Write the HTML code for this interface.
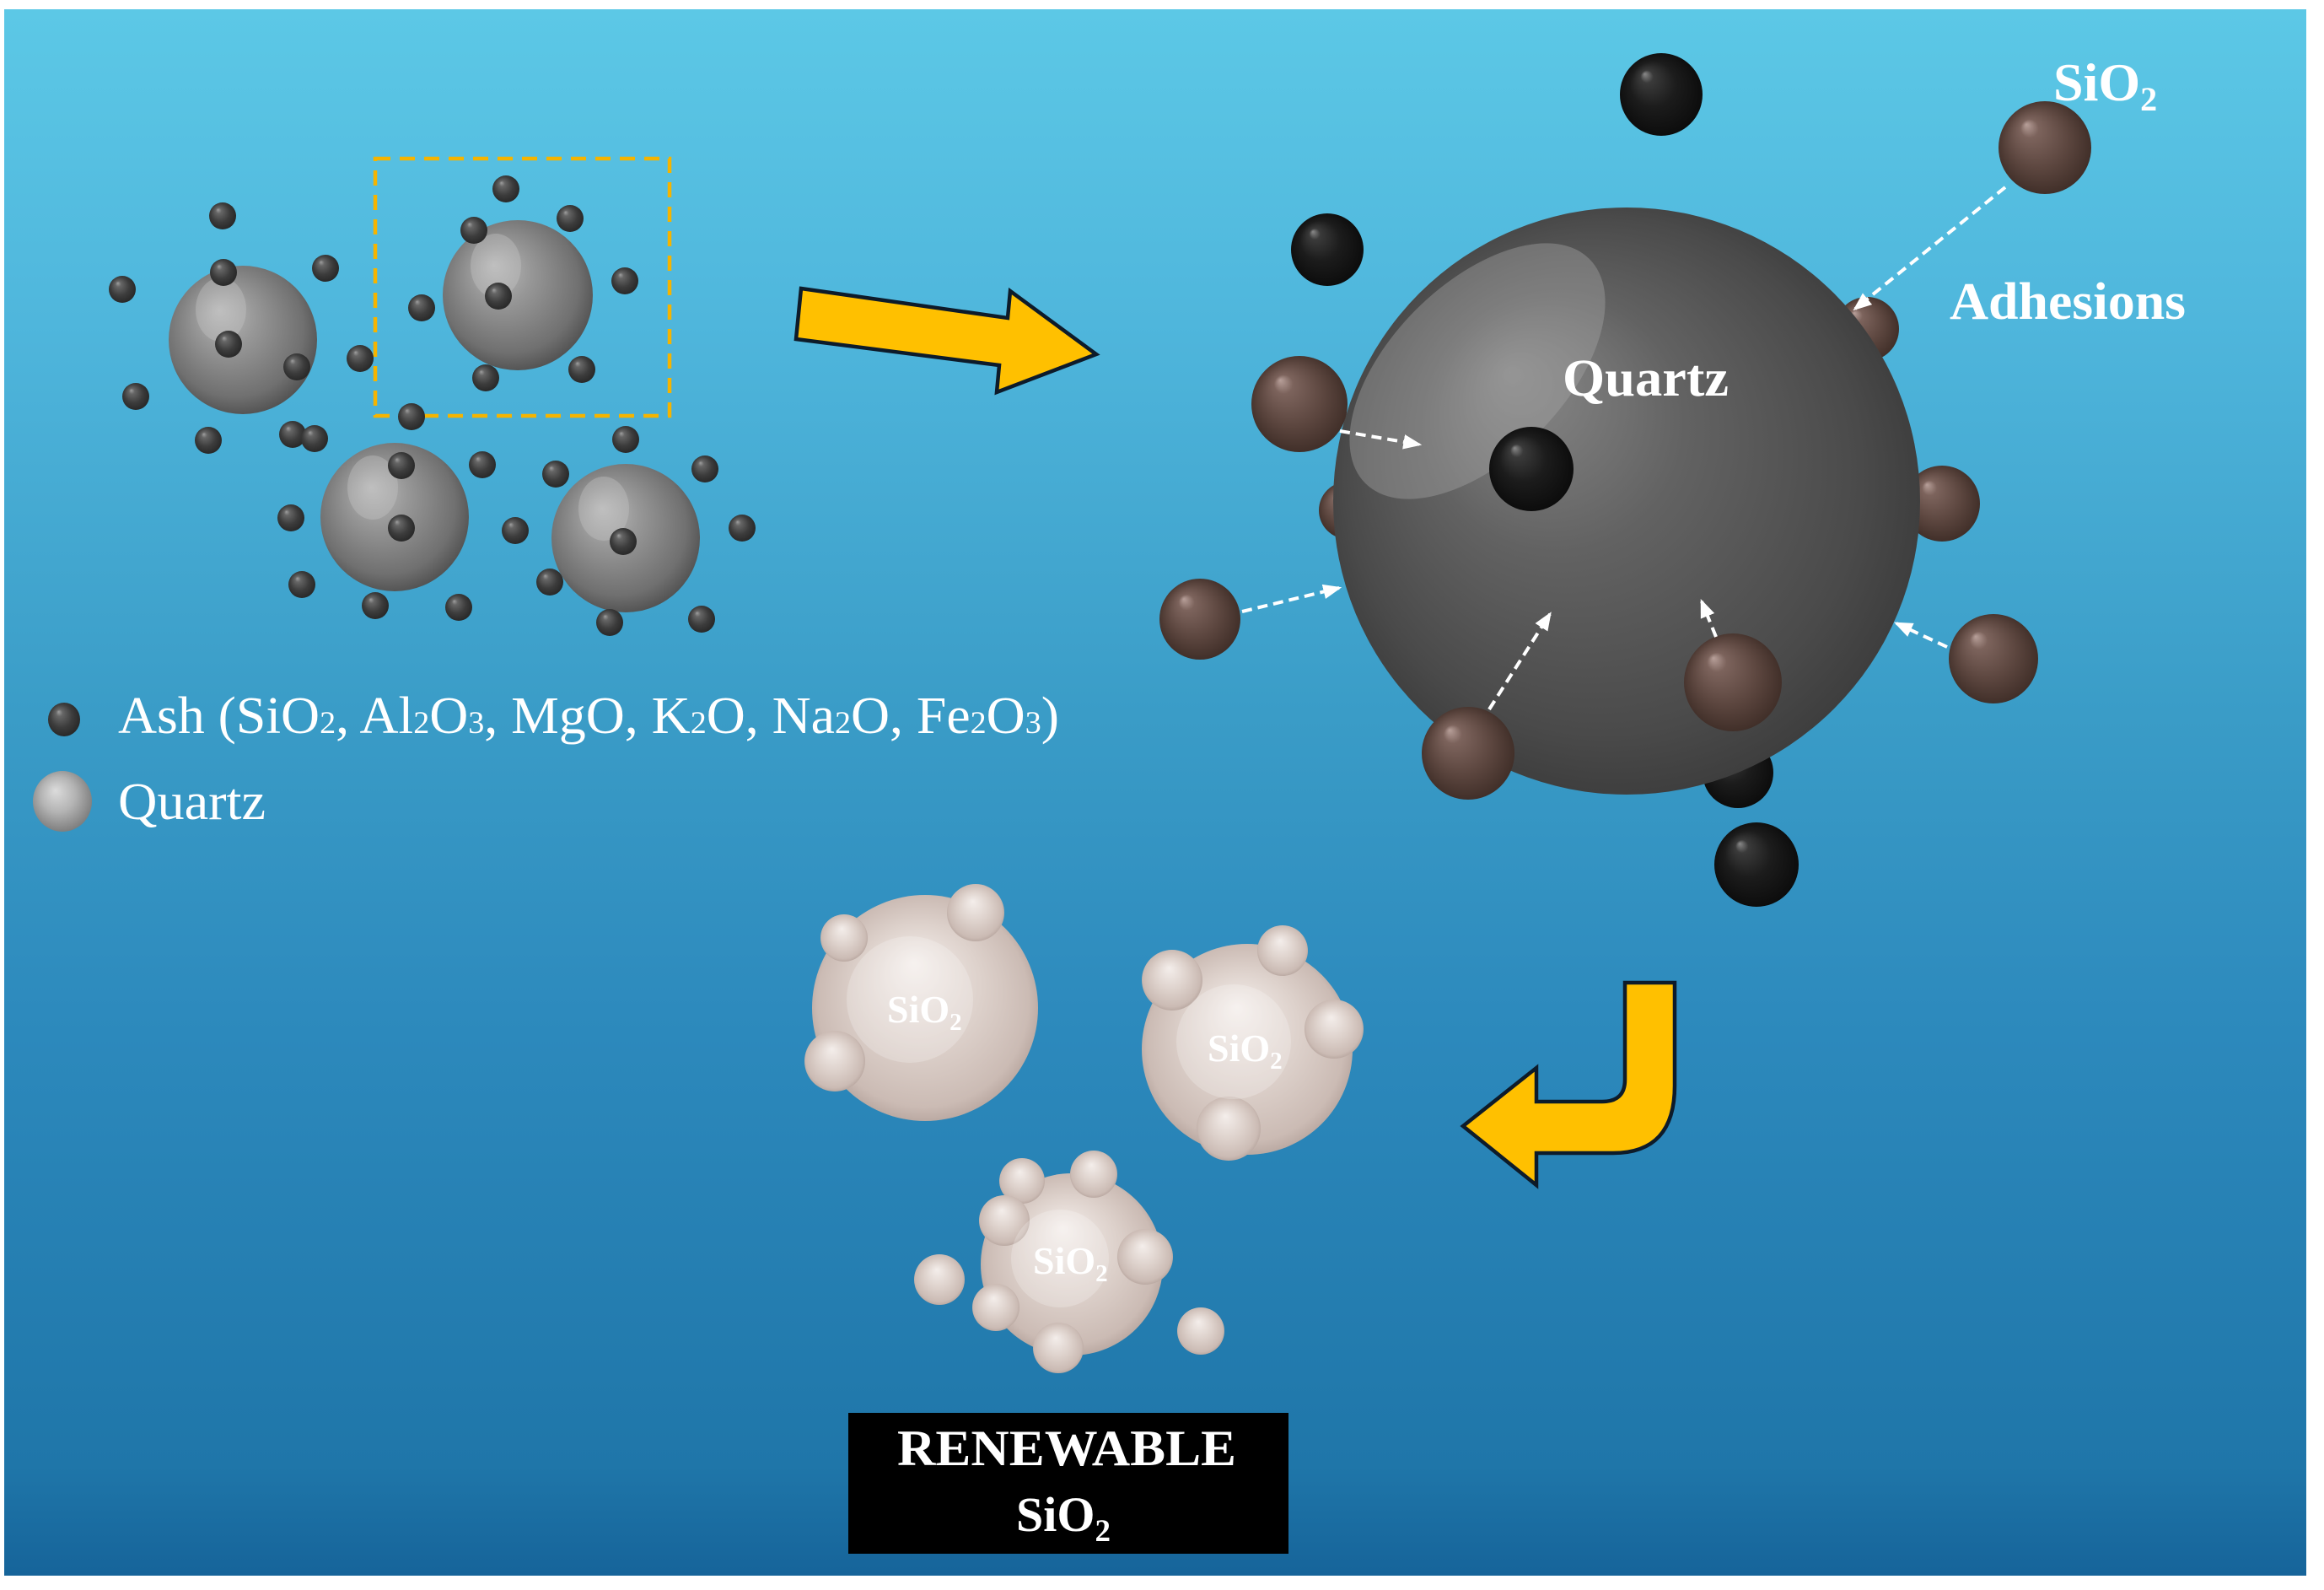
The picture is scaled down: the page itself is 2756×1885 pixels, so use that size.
<!DOCTYPE html>
<html><head><meta charset="utf-8"><style>html,body{margin:0;padding:0;background:#fff}svg{display:block}</style></head>
<body>
<svg width="2756" height="1885" viewBox="0 0 2756 1885" xmlns="http://www.w3.org/2000/svg" font-family="'Liberation Serif', serif">
<defs>
<linearGradient id="bg" x1="0" y1="0" x2="0" y2="1">
<stop offset="0" stop-color="#5cc8e6"/>
<stop offset="0.2" stop-color="#4fb6dc"/>
<stop offset="0.45" stop-color="#3a9cc7"/>
<stop offset="0.64" stop-color="#2d8abd"/>
<stop offset="0.93" stop-color="#1f76a9"/>
<stop offset="1" stop-color="#16649a"/>
</linearGradient>
<radialGradient id="gq" cx=".47" cy=".45" r=".58" fx=".34" fy=".3">
<stop offset="0" stop-color="#bdbdbd"/><stop offset=".35" stop-color="#979797"/><stop offset=".8" stop-color="#707070"/><stop offset="1" stop-color="#4e4e4e"/>
</radialGradient>
<radialGradient id="gq2" cx=".47" cy=".45" r=".58" fx=".38" fy=".32">
<stop offset="0" stop-color="#dcdcdc"/><stop offset=".5" stop-color="#b4b4b4"/><stop offset="1" stop-color="#7a7a7a"/>
</radialGradient>
<radialGradient id="ash" cx=".47" cy=".47" r=".58" fx=".33" fy=".27">
<stop offset="0" stop-color="#a0a0a0"/><stop offset=".18" stop-color="#666"/><stop offset=".6" stop-color="#3c3c3c"/><stop offset="1" stop-color="#252525"/>
</radialGradient>
<radialGradient id="gb" cx=".5" cy=".5" r=".55" fx=".3" fy=".28">
<stop offset="0" stop-color="#8a8a8a"/><stop offset=".4" stop-color="#626262"/><stop offset=".8" stop-color="#4a4a4a"/><stop offset="1" stop-color="#393939"/>
</radialGradient>
<radialGradient id="gk" cx=".5" cy=".5" r=".55" fx=".3" fy=".25">
<stop offset="0" stop-color="#8a8a8a"/><stop offset=".14" stop-color="#3a3a3a"/><stop offset=".5" stop-color="#1c1c1c"/><stop offset="1" stop-color="#0a0a0a"/>
</radialGradient>
<radialGradient id="gr" cx=".5" cy=".5" r=".55" fx=".3" fy=".25">
<stop offset="0" stop-color="#b8a09a"/><stop offset=".18" stop-color="#7c635c"/><stop offset=".6" stop-color="#5c463f"/><stop offset="1" stop-color="#3c2b25"/>
</radialGradient>
<radialGradient id="gs" cx=".5" cy=".5" r=".55" fx=".45" fy=".3">
<stop offset="0" stop-color="#f4eeeb"/><stop offset=".5" stop-color="#ddd1cb"/><stop offset=".85" stop-color="#cbbbb4"/><stop offset="1" stop-color="#ae9c95"/>
</radialGradient>
<clipPath id="bigclip"><circle cx="1929" cy="594" r="348"/></clipPath>
<marker id="ah" viewBox="0 0 20 16" refX="17" refY="8" markerWidth="22" markerHeight="18" markerUnits="userSpaceOnUse" orient="auto">
<path d="M0,0 L20,8 L0,16 Z" fill="#fff"/>
</marker>
</defs>

<rect x="0" y="0" width="2756" height="1885" fill="#fff"/>
<rect x="5" y="11" width="2730" height="1857" fill="url(#bg)"/>

<!-- left cluster -->
<g>
<circle cx="288" cy="403" r="88" fill="url(#gq)"/>
<circle cx="614" cy="350" r="89" fill="url(#gq)"/>
<circle cx="468" cy="613" r="88" fill="url(#gq)"/>
<circle cx="742" cy="638" r="88" fill="url(#gq)"/>
<ellipse cx="262" cy="367" rx="30" ry="38" fill="#c4c4c4" opacity=".4"/>
<ellipse cx="588" cy="315" rx="30" ry="38" fill="#c4c4c4" opacity=".4"/>
<ellipse cx="442" cy="578" rx="30" ry="38" fill="#c4c4c4" opacity=".4"/>
<ellipse cx="716" cy="603" rx="30" ry="38" fill="#c4c4c4" opacity=".4"/>
</g>
<rect x="445" y="188" width="349" height="305" fill="none" stroke="#f5b400" stroke-width="4.5" stroke-dasharray="18 11"/>
<g fill="url(#ash)">
<circle cx="264" cy="256" r="16"/><circle cx="265" cy="323" r="16"/><circle cx="386" cy="318" r="16"/>
<circle cx="145" cy="343" r="16"/><circle cx="271" cy="408" r="16"/><circle cx="352" cy="435" r="16"/>
<circle cx="427" cy="425" r="16"/><circle cx="161" cy="470" r="16"/><circle cx="247" cy="522" r="16"/>
<circle cx="347" cy="515" r="16"/><circle cx="373" cy="520" r="16"/><circle cx="600" cy="224" r="16"/>
<circle cx="676" cy="259" r="16"/><circle cx="562" cy="273" r="16"/><circle cx="500" cy="365" r="16"/>
<circle cx="591" cy="351" r="16"/><circle cx="741" cy="333" r="16"/><circle cx="576" cy="448" r="16"/>
<circle cx="690" cy="438" r="16"/><circle cx="488" cy="494" r="16"/><circle cx="742" cy="521" r="16"/>
<circle cx="476" cy="552" r="16"/><circle cx="572" cy="551" r="16"/><circle cx="345" cy="614" r="16"/>
<circle cx="476" cy="626" r="16"/><circle cx="611" cy="629" r="16"/><circle cx="659" cy="562" r="16"/>
<circle cx="836" cy="556" r="16"/><circle cx="358" cy="693" r="16"/><circle cx="445" cy="718" r="16"/>
<circle cx="544" cy="720" r="16"/><circle cx="880" cy="626" r="16"/><circle cx="652" cy="690" r="16"/>
<circle cx="739" cy="642" r="16"/><circle cx="723" cy="738" r="16"/><circle cx="832" cy="734" r="16"/>
</g>

<!-- legend -->
<ellipse cx="76" cy="853" rx="19" ry="20" fill="url(#ash)"/>
<ellipse cx="74" cy="950" rx="35" ry="36" fill="url(#gq2)"/>
<text x="140" y="869" font-size="62" fill="#fff" textLength="1116" lengthAdjust="spacingAndGlyphs">Ash (SiO<tspan font-size="37">2</tspan>, Al<tspan font-size="37">2</tspan>O<tspan font-size="37">3</tspan>, MgO, K<tspan font-size="37">2</tspan>O, Na<tspan font-size="37">2</tspan>O, Fe<tspan font-size="37">2</tspan>O<tspan font-size="37">3</tspan>)</text>
<text x="140" y="971" font-size="62" fill="#fff" textLength="175" lengthAdjust="spacingAndGlyphs">Quartz</text>

<!-- arrow 1 -->
<polygon points="950,342 1195,377 1198,345 1300,420 1182,465 1185,433 944,402" fill="#ffc000" stroke="#0d1b2a" stroke-width="4.5" stroke-linejoin="miter"/>

<!-- big sphere: behind particles -->
<circle cx="2214" cy="390" r="38" fill="url(#gr)"/>
<circle cx="2303" cy="597" r="45" fill="url(#gr)"/>
<circle cx="1598" cy="605" r="34" fill="url(#gr)"/>
<circle cx="2061" cy="916" r="42" fill="url(#gk)"/>
<circle cx="1929" cy="594" r="348" fill="url(#gb)"/>
<g clip-path="url(#bigclip)">
<ellipse cx="1752" cy="440" rx="188" ry="103" transform="rotate(-45 1752 440)" fill="#a4a4a4" opacity=".42"/>
</g>
<!-- front particles -->
<circle cx="1816" cy="556" r="50" fill="url(#gk)"/>
<circle cx="1970" cy="112" r="49" fill="url(#gk)"/>
<circle cx="1574" cy="296" r="43" fill="url(#gk)"/>
<circle cx="2083" cy="1025" r="50" fill="url(#gk)"/>
<circle cx="2425" cy="175" r="55" fill="url(#gr)"/>
<circle cx="1541" cy="479" r="57" fill="url(#gr)"/>
<circle cx="1423" cy="734" r="48" fill="url(#gr)"/>
<circle cx="2364" cy="781" r="53" fill="url(#gr)"/>
<circle cx="2055" cy="809" r="58" fill="url(#gr)"/>
<circle cx="1741" cy="893" r="55" fill="url(#gr)"/>

<!-- white dashed arrows -->
<g stroke="#fff" stroke-width="4" stroke-dasharray="12 7" fill="none" marker-end="url(#ah)">
<line x1="2378" y1="222" x2="2200" y2="366"/>
<line x1="1589" y1="511" x2="1683" y2="527"/>
<line x1="1473" y1="725" x2="1588" y2="697"/>
<line x1="1766" y1="841" x2="1838" y2="728"/>
<line x1="2035" y1="755" x2="2018" y2="713"/>
<line x1="2309" y1="767" x2="2249" y2="739"/>
</g>

<!-- labels right -->
<g fill="#fff" font-weight="bold">
<text x="2435" y="119" font-size="64">SiO<tspan font-size="40" dy="12">2</tspan></text>
<text x="2312" y="378" font-size="62" textLength="280" lengthAdjust="spacingAndGlyphs">Adhesions</text>
<text x="1853" y="469" font-size="62" textLength="197" lengthAdjust="spacingAndGlyphs">Quartz</text>
</g>

<!-- arrow 2 -->
<path d="M1927,1165 L1986,1165 L1986,1287 Q1986,1367 1913,1367 L1822,1367 L1822,1405 L1735,1335 L1822,1266 L1822,1306 L1900,1306 Q1927,1306 1927,1280 Z" fill="#ffc000" stroke="#0d1b2a" stroke-width="4.5" stroke-linejoin="miter"/>

<!-- SiO2 spheres -->
<g fill="url(#gs)">
<circle cx="1097" cy="1195" r="134"/>
<circle cx="1157" cy="1082" r="34"/><circle cx="1001" cy="1112" r="28"/><circle cx="990" cy="1258" r="36"/>
<circle cx="1479" cy="1244" r="125"/>
<circle cx="1521" cy="1127" r="30"/><circle cx="1390" cy="1162" r="36"/><circle cx="1582" cy="1220" r="35"/><circle cx="1457" cy="1338" r="38"/>
<circle cx="1271" cy="1499" r="108"/>
<circle cx="1212" cy="1400" r="27"/><circle cx="1297" cy="1392" r="28"/><circle cx="1191" cy="1447" r="30"/><circle cx="1358" cy="1490" r="33"/><circle cx="1181" cy="1550" r="28"/><circle cx="1255" cy="1598" r="30"/>
<circle cx="1114" cy="1517" r="30"/><circle cx="1424" cy="1578" r="28"/>
</g>
<g fill="#fff" opacity=".22">
<circle cx="1079" cy="1185" r="75"/><circle cx="1463" cy="1235" r="68"/><circle cx="1257" cy="1492" r="58"/>
</g>
<g fill="#fff" font-weight="bold" font-size="46">
<text x="1052" y="1212">SiO<tspan font-size="29" dy="9">2</tspan></text>
<text x="1432" y="1258">SiO<tspan font-size="29" dy="9">2</tspan></text>
<text x="1225" y="1510">SiO<tspan font-size="29" dy="9">2</tspan></text>
</g>

<!-- renewable box -->
<rect x="1006" y="1675" width="522" height="167" fill="#000"/>
<g fill="#fff" font-weight="bold">
<text x="1064" y="1737" font-size="60" textLength="402" lengthAdjust="spacingAndGlyphs">RENEWABLE</text>
<text x="1205" y="1815" font-size="58">SiO<tspan font-size="37" dy="12">2</tspan></text>
</g>
</svg>
</body></html>
